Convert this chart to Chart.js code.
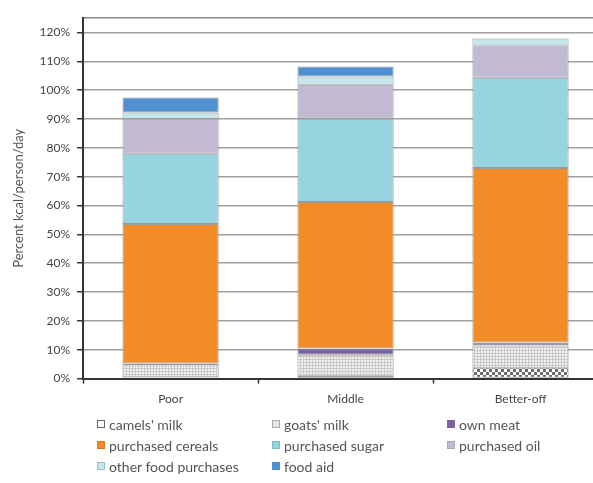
<!DOCTYPE html>
<html>
  <head>
    <title>Kcal sources by wealth group</title>
    <meta charset="utf-8">
    <style>
      html, body { margin: 0; padding: 0; background: #fff; overflow: hidden; }
      #wrap { position: relative; width: 606px; height: 483px; }
      #legend { position: absolute; left: 97px; top: 416px; width: 500px;
                font-family: Lato, "Open Sans", sans-serif; font-size: 14px; color: #555; }
      .item { position: absolute; white-space: nowrap; line-height: 17px; }
      .box { display: inline-block; width: 8px; height: 8px; margin-right: 4px;
             vertical-align: 2px; box-sizing: border-box; }
    </style>
  </head>
  <body>
    <div id="wrap">
      <canvas id="foodChart" width="608" height="483"></canvas>
      <div id="legend"></div>
    </div>

    <script src="https://cdn.jsdelivr.net/npm/chart.js"></script>
    <script>
      // values, % of kcal/person/day
      var categories = ['Poor', 'Middle', 'Better-off'];
      var camelsMilk = [0.5, 1.0, 3.8];
      var goatsMilk = [4.0, 7.3, 7.7];
      var ownMeat = [0.7, 2.1, 1.0];
      var purchasedCereals = [48.4, 50.8, 60.5];
      var purchasedSugar = [24.3, 28.9, 31.3];
      var purchasedOil = [12.2, 11.8, 11.2];
      var otherFood = [2.1, 2.8, 2.4];
      var foodAid = [5.2, 3.5, 0];
      var yTicks = [0, 10, 20, 30, 40, 50, 60, 70, 80, 90, 100, 110, 120];

      function checkPattern() {
        var c = document.createElement('canvas');
        c.width = 6; c.height = 6;
        var g = c.getContext('2d');
        g.fillStyle = '#ffffff'; g.fillRect(0, 0, 6, 6);
        g.fillStyle = '#6a6a6a';
        g.fillRect(0, 0, 3, 3); g.fillRect(3, 3, 3, 3);
        return g.createPattern(c, 'repeat');
      }

      function dotPattern() {
        var c = document.createElement('canvas');
        c.width = 3; c.height = 3;
        var g = c.getContext('2d');
        g.fillStyle = '#f2f2f2'; g.fillRect(0, 0, 3, 3);
        g.fillStyle = '#c8c8c8';
        g.fillRect(0, 0, 1, 3); g.fillRect(0, 2, 3, 1);
        return g.createPattern(c, 'repeat');
      }

      var series = [
        { label: "camels' milk", data: camelsMilk, fill: checkPattern(), box: '#fff', edge: '#666' },
        { label: "goats' milk", data: goatsMilk, fill: dotPattern(), box: '#e6e6e6', edge: '#aaa' },
        { label: 'own meat', data: ownMeat, fill: '#7b62a3', box: '#7b62a3', edge: '#7b62a3' },
        { label: 'purchased cereals', data: purchasedCereals, fill: '#f28c28', box: '#f28c28', edge: '#e07a20' },
        { label: 'purchased sugar', data: purchasedSugar, fill: '#96d4e0', box: '#96d4e0', edge: '#7fbccb' },
        { label: 'purchased oil', data: purchasedOil, fill: '#c2b9d3', box: '#c2b9d3', edge: '#aaa2bb' },
        { label: 'other food purchases', data: otherFood, fill: '#c4e7ec', box: '#c4e7ec', edge: '#96bcc4' },
        { label: 'food aid', data: foodAid, fill: '#5190d0', box: '#5190d0', edge: '#5190d0' }
      ];

      var family = 'Lato, "Open Sans", sans-serif';

      var config = {
        type: 'bar',
        data: {
          labels: categories,
          datasets: series.map(function (s) {
            return {
              label: s.label,
              data: s.data,
              backgroundColor: s.fill,
              borderColor: '#9a9a9a',
              borderWidth: 1,
              borderSkipped: false,
              barPercentage: 0.55,
              categoryPercentage: 1
            };
          })
        },
        options: {
          responsive: false,
          animation: false,
          layout: { padding: { left: 11, right: 0, top: 18, bottom: 69 } },
          plugins: {
            legend: { display: false },
            tooltip: { enabled: false }
          },
          scales: {
            x: {
              stacked: true,
              grid: { drawOnChartArea: false, tickLength: 5, tickColor: '#333', tickWidth: 1.5 },
              border: { color: '#333', width: 2 },
              ticks: { color: '#444', font: { family: family, size: 12 }, padding: 8 }
            },
            y: {
              stacked: true,
              min: 0,
              max: 125,
              afterBuildTicks: function (axis) {
                axis.ticks = yTicks.concat([125]).map(function (v) { return { value: v }; });
              },
              grid: {
                color: function (ctx) { return ctx.tick && ctx.tick.value === 125 ? '#8a8a8a' : '#a0a0a0'; },
                lineWidth: 1.5,
                tickLength: 6,
                tickColor: function (ctx) { return ctx.tick && ctx.tick.value === 125 ? 'rgba(0,0,0,0)' : '#333'; }
              },
              border: { color: '#333', width: 2 },
              ticks: {
                color: '#444',
                font: { family: family, size: 12 },
                padding: 7,
                callback: function (v) { return v === 125 ? '' : v + '%'; }
              },
              title: { display: true, text: 'Percent kcal/person/day', color: '#555', font: { family: family, size: 13 }, padding: { top: 0, bottom: 6 } }
            }
          }
        }
      };

      var foodChart = new Chart(document.getElementById('foodChart'), config);

      // legend in three columns, like the original
      var legend = document.getElementById('legend');
      var colX = [0, 175, 350];
      series.forEach(function (s, i) {
        var item = document.createElement('div');
        item.className = 'item';
        item.style.left = colX[i % 3] + 'px';
        item.style.top = (Math.floor(i / 3) * 21) + 'px';
        item.innerHTML = '<span class="box" style="background:' + s.box + ';border:1px solid ' + s.edge + '"></span>' + s.label;
        legend.appendChild(item);
      });
    </script>
  </body>
</html>
